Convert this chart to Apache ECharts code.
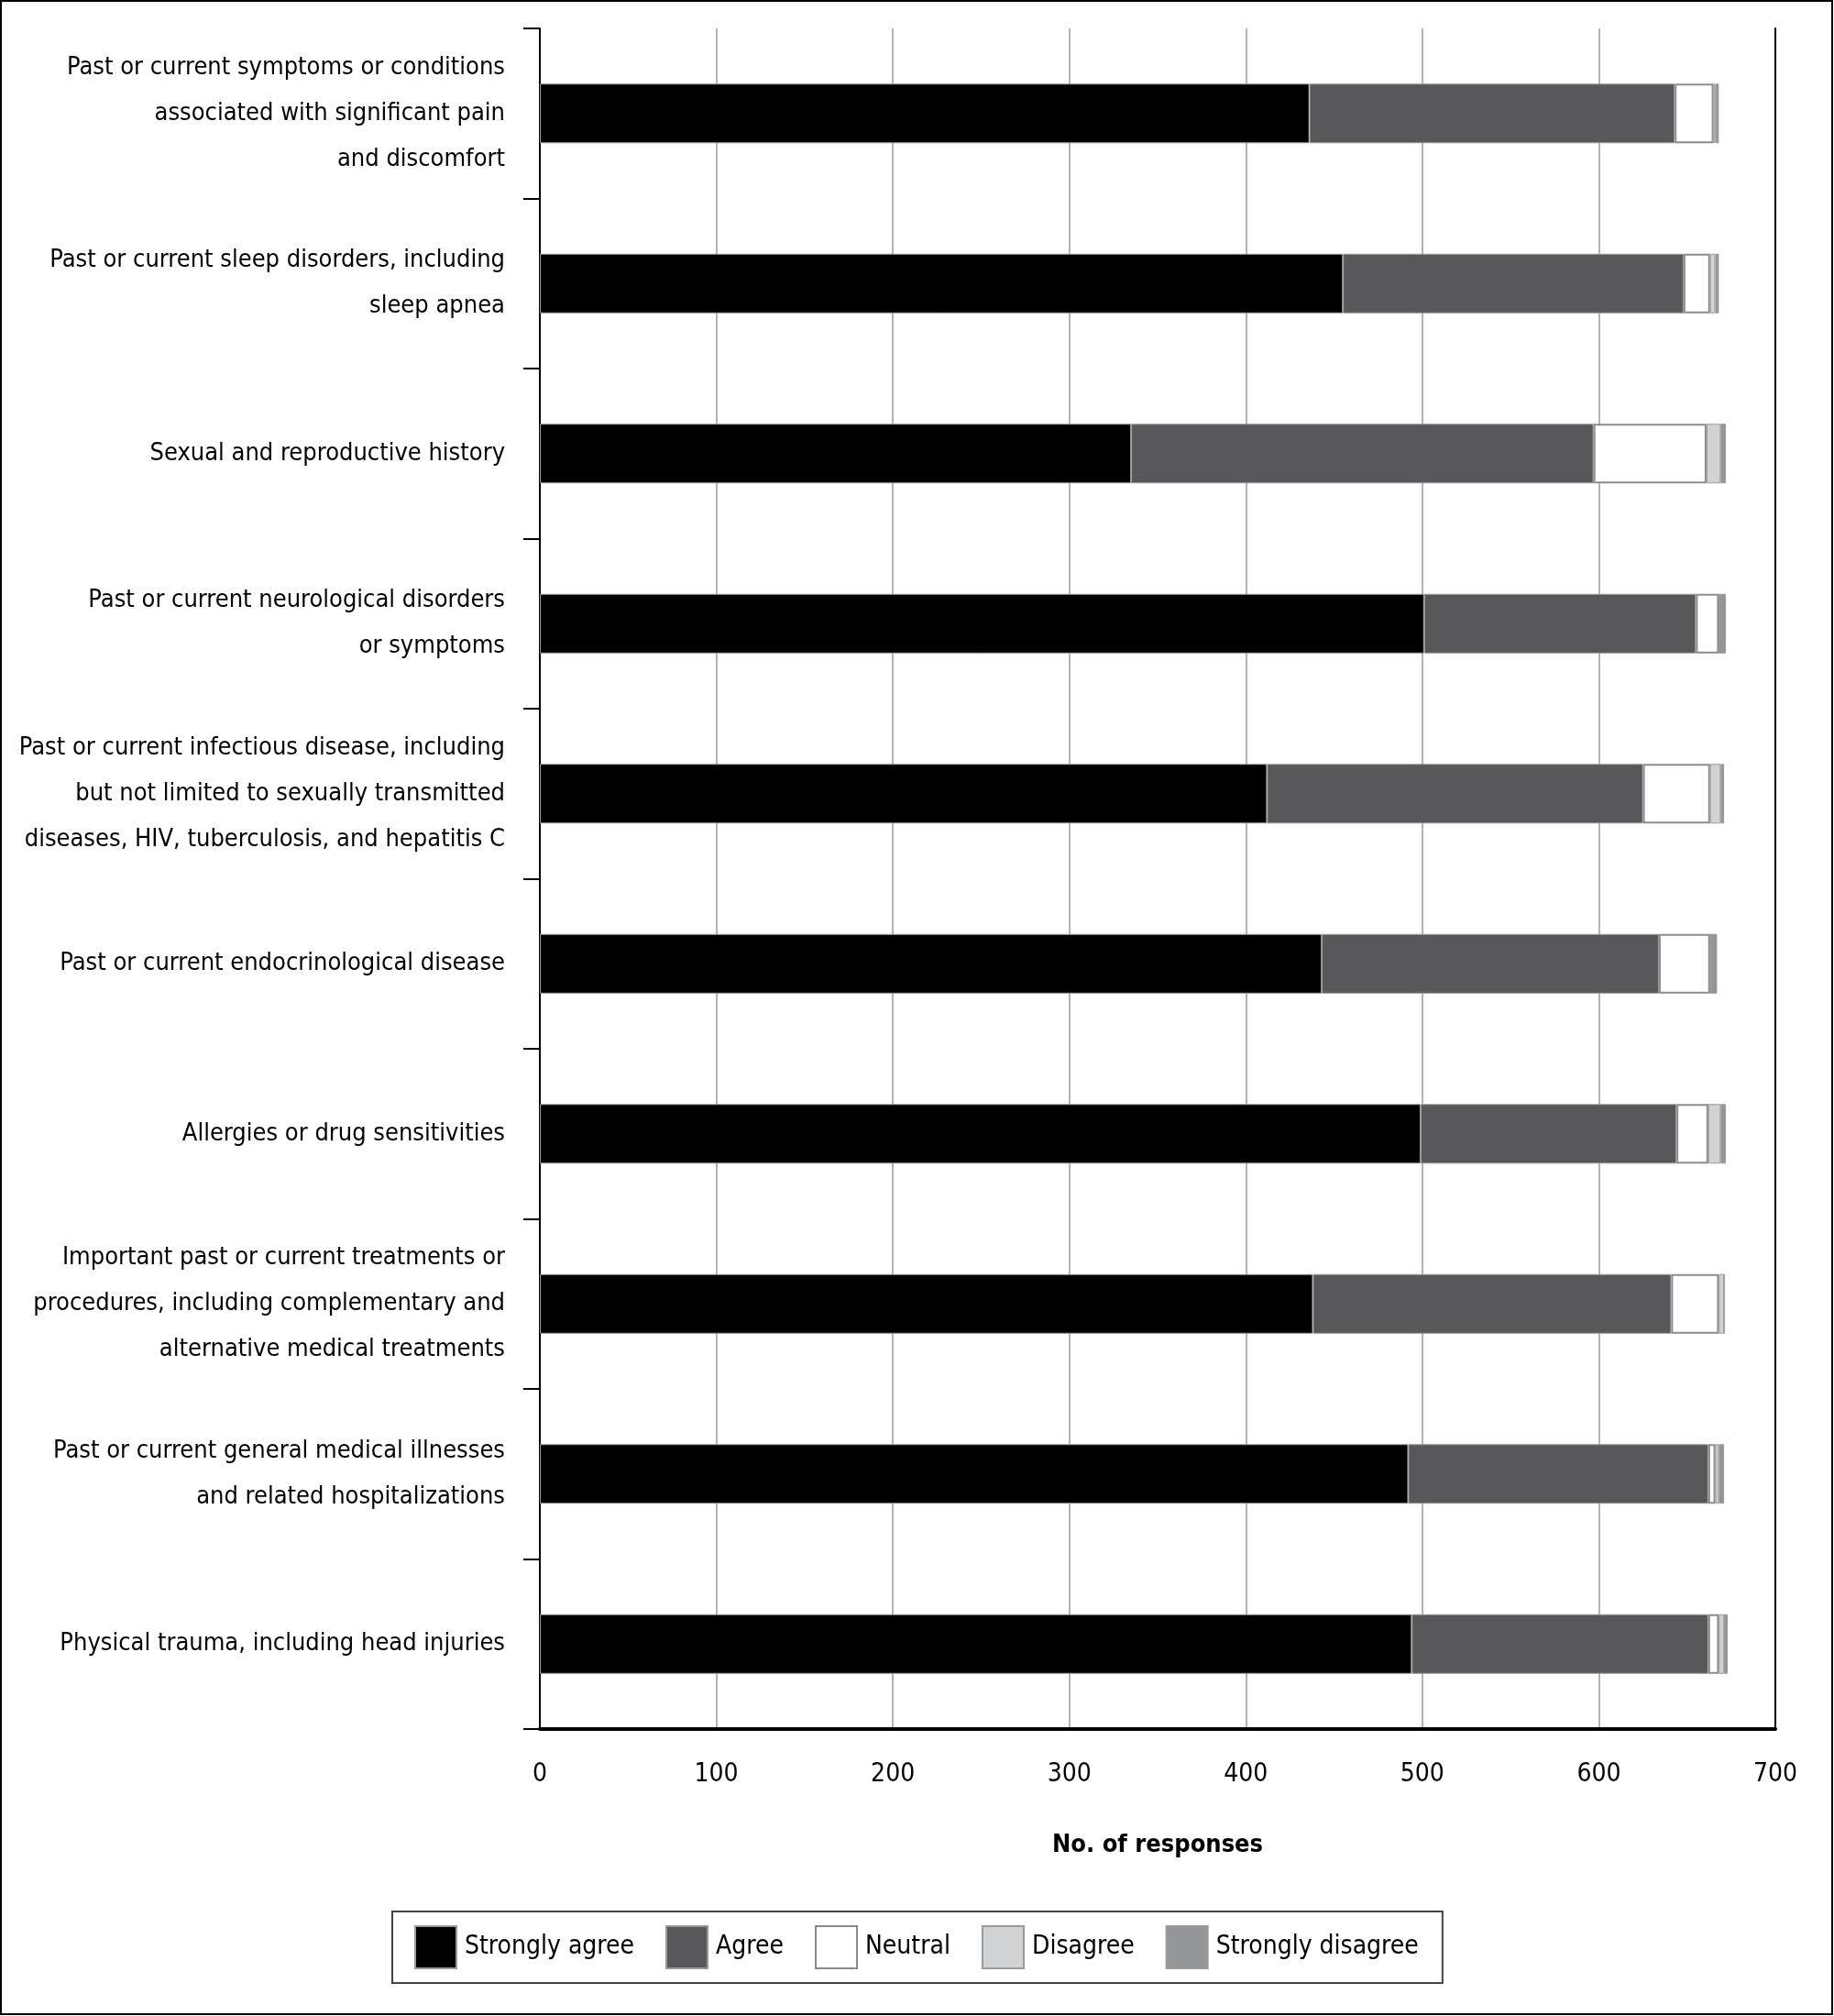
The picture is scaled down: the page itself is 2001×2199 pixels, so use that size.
<!DOCTYPE html>
<html>
<head>
<meta charset="utf-8">
<script src="https://cdn.jsdelivr.net/npm/echarts@6/dist/echarts.min.js"></script>
<style>
html,body{margin:0;padding:0;background:#fff;}
#chart{width:2001px;height:2199px;}
</style>
</head>
<body>
<div id="chart"></div>
<script>
const categories = [
  "Past or current symptoms or conditions\nassociated with significant pain\nand discomfort",
  "Past or current sleep disorders, including\nsleep apnea",
  "Sexual and reproductive history",
  "Past or current neurological disorders\nor symptoms",
  "Past or current infectious disease, including\nbut not limited to sexually transmitted\ndiseases, HIV, tuberculosis, and hepatitis C",
  "Past or current endocrinological disease",
  "Allergies or drug sensitivities",
  "Important past or current treatments or\nprocedures, including complementary and\nalternative medical treatments",
  "Past or current general medical illnesses\nand related hospitalizations",
  "Physical trauma, including head injuries"
];
const seriesNames = ["Strongly agree", "Agree", "Neutral", "Disagree", "Strongly disagree"];
const stronglyAgree    = [436, 455, 335, 501, 412, 443, 499, 438, 492, 494];
const agree            = [207, 193, 262, 154, 213, 191, 145, 203, 170, 168];
const neutral          = [22, 15, 64, 13, 38, 29, 18, 27, 4, 6];
const disagree         = [1, 3, 8, 0, 6, 0, 7, 3, 2, 3];
const stronglyDisagree = [2, 2, 3, 4, 2, 4, 3, 0, 3, 2];
const xTicks = [0, 100, 200, 300, 400, 500, 600, 700];

const FONT = "'DejaVu Sans Condensed', 'Liberation Sans Narrow', 'Roboto Condensed', sans-serif";
const colors = ["#000000", "#58585a", "#ffffff", "#d1d2d4", "#939598"];
const values = [stronglyAgree, agree, neutral, disagree, stronglyDisagree];

const chart = echarts.init(document.getElementById('chart'), null, {renderer: 'canvas'});

const series = seriesNames.map((name, i) => ({
  name: name,
  type: 'bar',
  stack: 'total',
  barWidth: 65,
  data: values[i],
  itemStyle: {
    color: colors[i],
    borderColor: i === 2 ? '#8c8c8c' : '#9a9a9a',
    borderWidth: i === 2 ? 2 : 1
  },
  emphasis: {disabled: true},
  animation: false
}));

chart.setOption({
  animation: false,
  backgroundColor: '#ffffff',
  textStyle: {fontFamily: FONT},
  graphic: [{
    type: 'rect',
    shape: {x: 1, y: 1, width: 1998, height: 2196},
    style: {fill: 'none', stroke: '#000', lineWidth: 2},
    silent: true
  }],
  grid: {left: 589, right: 64, top: 31, bottom: 313, containLabel: false, outerBoundsMode: 'none'},
  xAxis: {
    type: 'value',
    min: xTicks[0],
    max: xTicks[xTicks.length - 1],
    interval: 100,
    name: 'No. of responses',
    nameLocation: 'middle',
    nameGap: 113,
    nameTextStyle: {fontFamily: FONT, fontSize: 27, fontWeight: 'bold', color: '#000'},
    axisLine: {show: true, lineStyle: {color: '#000', width: 4}},
    axisTick: {show: false},
    axisLabel: {fontFamily: FONT, fontSize: 28, color: '#000', margin: 36},
    splitLine: {show: true, lineStyle: {color: '#9a9a9a', width: 1.5}}
  },
  yAxis: [{
    type: 'category',
    data: categories,
    inverse: true,
    position: 'left',
    axisLine: {show: true, lineStyle: {color: '#000', width: 2}},
    axisTick: {show: true, alignWithLabel: false, length: 18, lineStyle: {color: '#000', width: 2}},
    axisLabel: {fontFamily: FONT, fontSize: 27, color: '#000', margin: 38, lineHeight: 50, align: 'right'},
    splitLine: {show: false}
  }, {
    type: 'category',
    data: categories,
    inverse: true,
    position: 'right',
    axisLine: {show: true, lineStyle: {color: '#000', width: 2}},
    axisTick: {show: false},
    axisLabel: {show: false},
    splitLine: {show: false}
  }],
  legend: {
    data: seriesNames,
    left: 428,
    top: 2085,
    orient: 'horizontal',
    icon: 'rect',
    itemWidth: 45,
    itemHeight: 46,
    itemGap: 34,
    padding: [15, 26, 15, 24],
    borderColor: '#444',
    borderWidth: 2,
    selectedMode: false,
    textStyle: {fontFamily: FONT, fontSize: 28, color: '#000', padding: [0, 0, 0, 4]}
  },
  series: series
});
</script>
</body>
</html>
